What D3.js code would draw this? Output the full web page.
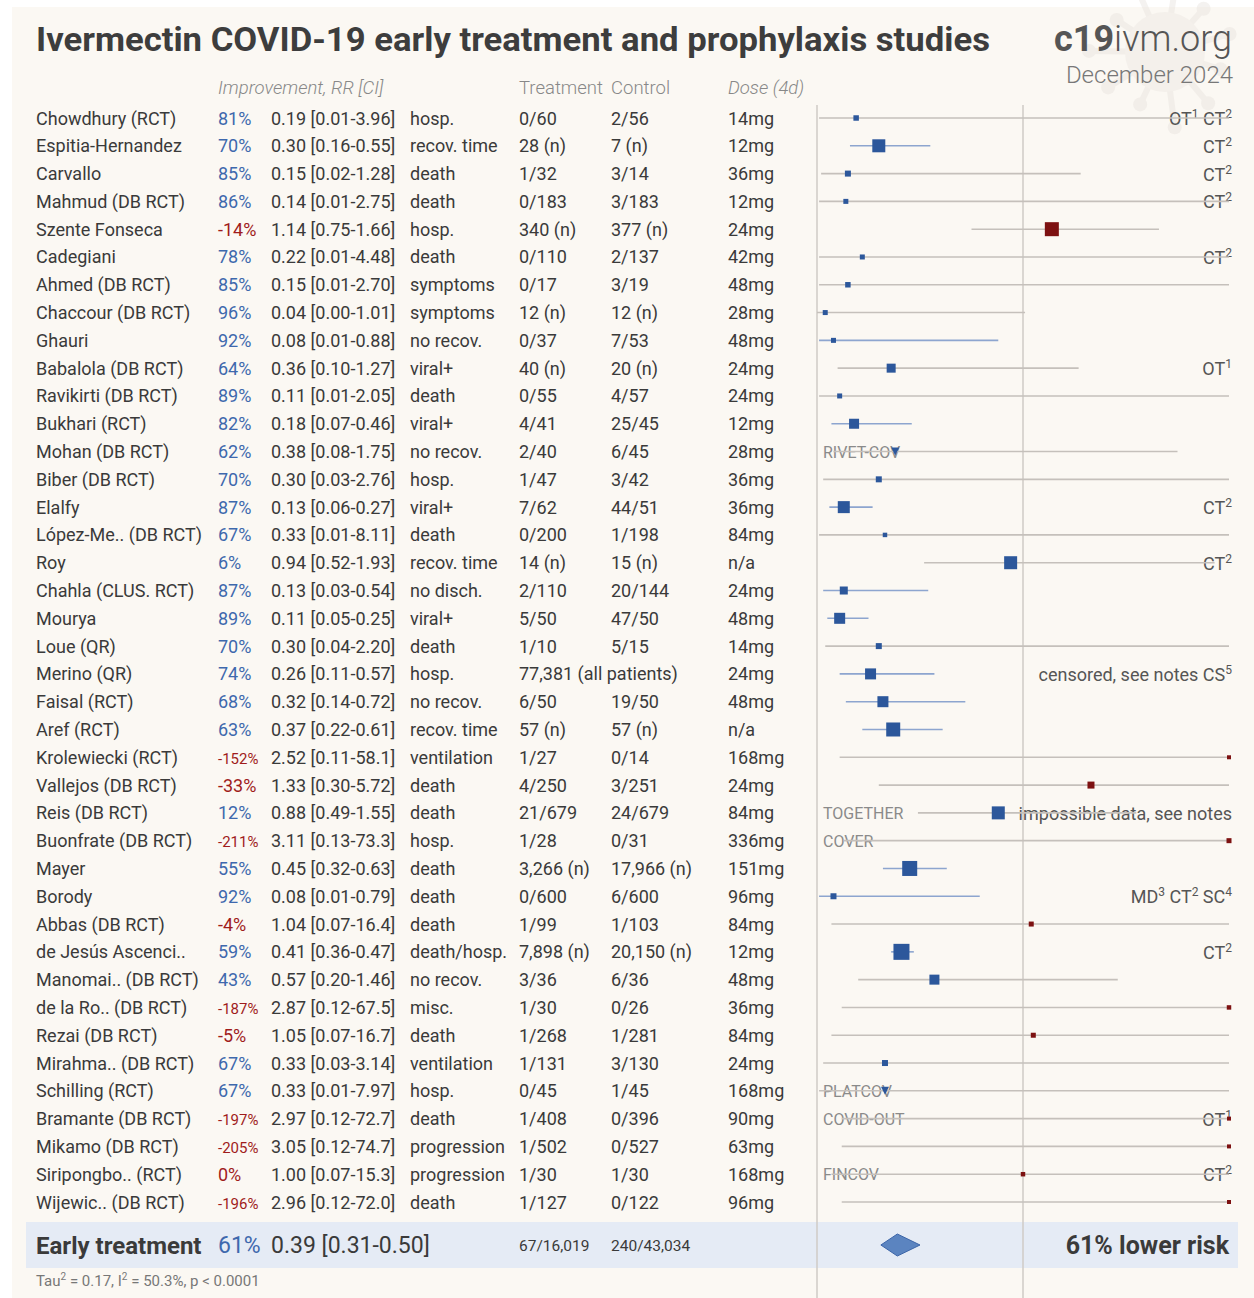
<!DOCTYPE html>
<html><head><meta charset="utf-8">
<script src="https://cdn.jsdelivr.net/npm/d3@7"></script>
<style>
html,body{margin:0;padding:0;background:#ffffff;}
svg{display:block;font-family:Roboto,"Open Sans",sans-serif;}
</style></head>
<body>
<script>
// ---------- DATA ----------
const studies = ["Chowdhury (RCT)","Espitia-Hernandez","Carvallo","Mahmud (DB RCT)","Szente Fonseca","Cadegiani","Ahmed (DB RCT)","Chaccour (DB RCT)","Ghauri","Babalola (DB RCT)","Ravikirti (DB RCT)","Bukhari (RCT)","Mohan (DB RCT)","Biber (DB RCT)","Elalfy","López-Me.. (DB RCT)","Roy","Chahla (CLUS. RCT)","Mourya","Loue (QR)","Merino (QR)","Faisal (RCT)","Aref (RCT)","Krolewiecki (RCT)","Vallejos (DB RCT)","Reis (DB RCT)","Buonfrate (DB RCT)","Mayer","Borody","Abbas (DB RCT)","de Jesús Ascenci..","Manomai.. (DB RCT)","de la Ro.. (DB RCT)","Rezai (DB RCT)","Mirahma.. (DB RCT)","Schilling (RCT)","Bramante (DB RCT)","Mikamo (DB RCT)","Siripongbo.. (RCT)","Wijewic.. (DB RCT)"];
const rr   = [0.19,0.30,0.15,0.14,1.14,0.22,0.15,0.04,0.08,0.36,0.11,0.18,0.38,0.30,0.13,0.33,0.94,0.13,0.11,0.30,0.26,0.32,0.37,2.52,1.33,0.88,3.11,0.45,0.08,1.04,0.41,0.57,2.87,1.05,0.33,0.33,2.97,3.05,1.00,2.96];
const ciLo = [0.01,0.16,0.02,0.01,0.75,0.01,0.01,0.00,0.01,0.10,0.01,0.07,0.08,0.03,0.06,0.01,0.52,0.03,0.05,0.04,0.11,0.14,0.22,0.11,0.30,0.49,0.13,0.32,0.01,0.07,0.36,0.20,0.12,0.07,0.03,0.01,0.12,0.12,0.07,0.12];
const ciHi = [3.96,0.55,1.28,2.75,1.66,4.48,2.70,1.01,0.88,1.27,2.05,0.46,1.75,2.76,0.27,8.11,1.93,0.54,0.25,2.20,0.57,0.72,0.61,58.1,5.72,1.55,73.3,0.63,0.79,16.4,0.47,1.46,67.5,16.7,3.14,7.97,72.7,74.7,15.3,72.0];
const improvement = ["81%","70%","85%","86%","-14%","78%","85%","96%","92%","64%","89%","82%","62%","70%","87%","67%","6%","87%","89%","70%","74%","68%","63%","-152%","-33%","12%","-211%","55%","92%","-4%","59%","43%","-187%","-5%","67%","67%","-197%","-205%","0%","-196%"];
const rrText = ["0.19 [0.01-3.96]","0.30 [0.16-0.55]","0.15 [0.02-1.28]","0.14 [0.01-2.75]","1.14 [0.75-1.66]","0.22 [0.01-4.48]","0.15 [0.01-2.70]","0.04 [0.00-1.01]","0.08 [0.01-0.88]","0.36 [0.10-1.27]","0.11 [0.01-2.05]","0.18 [0.07-0.46]","0.38 [0.08-1.75]","0.30 [0.03-2.76]","0.13 [0.06-0.27]","0.33 [0.01-8.11]","0.94 [0.52-1.93]","0.13 [0.03-0.54]","0.11 [0.05-0.25]","0.30 [0.04-2.20]","0.26 [0.11-0.57]","0.32 [0.14-0.72]","0.37 [0.22-0.61]","2.52 [0.11-58.1]","1.33 [0.30-5.72]","0.88 [0.49-1.55]","3.11 [0.13-73.3]","0.45 [0.32-0.63]","0.08 [0.01-0.79]","1.04 [0.07-16.4]","0.41 [0.36-0.47]","0.57 [0.20-1.46]","2.87 [0.12-67.5]","1.05 [0.07-16.7]","0.33 [0.03-3.14]","0.33 [0.01-7.97]","2.97 [0.12-72.7]","3.05 [0.12-74.7]","1.00 [0.07-15.3]","2.96 [0.12-72.0]"];
const outcome = ["hosp.","recov. time","death","death","hosp.","death","symptoms","symptoms","no recov.","viral+","death","viral+","no recov.","hosp.","viral+","death","recov. time","no disch.","viral+","death","hosp.","no recov.","recov. time","ventilation","death","death","hosp.","death","death","death","death/hosp.","no recov.","misc.","death","ventilation","hosp.","death","progression","progression","death"];
const treatment = ["0/60","28 (n)","1/32","0/183","340 (n)","0/110","0/17","12 (n)","0/37","40 (n)","0/55","4/41","2/40","1/47","7/62","0/200","14 (n)","2/110","5/50","1/10","77,381 (all patients)","6/50","57 (n)","1/27","4/250","21/679","1/28","3,266 (n)","0/600","1/99","7,898 (n)","3/36","1/30","1/268","1/131","0/45","1/408","1/502","1/30","1/127"];
const control = ["2/56","7 (n)","3/14","3/183","377 (n)","2/137","3/19","12 (n)","7/53","20 (n)","4/57","25/45","6/45","3/42","44/51","1/198","15 (n)","20/144","47/50","5/15","","19/50","57 (n)","0/14","3/251","24/679","0/31","17,966 (n)","6/600","1/103","20,150 (n)","6/36","0/26","1/281","3/130","1/45","0/396","0/527","1/30","0/122"];
const dose = ["14mg","12mg","36mg","12mg","24mg","42mg","48mg","28mg","48mg","24mg","24mg","12mg","28mg","36mg","36mg","84mg","n/a","24mg","48mg","14mg","24mg","48mg","n/a","168mg","24mg","84mg","336mg","151mg","96mg","84mg","12mg","48mg","36mg","84mg","24mg","168mg","90mg","63mg","168mg","96mg"];
const weight = [30,169,36,25,196,25,30,25,25,81,25,100,49,36,144,20,169,64,121,36,121,121,196,16,49,169,25,225,36,25,256,100,20,25,36,49,16,16,20,16];
const markerType = ["sq","sq","sq","sq","sq","sq","sq","sq","sq","sq","sq","sq","tri","sq","sq","sq","sq","sq","sq","sq","sq","sq","sq","sq","sq","sq","sq","sq","sq","sq","sq","sq","sq","sq","sq","tri","sq","sq","sq","sq"];
const trialName = ["","","","","","","","","","","","","RIVET-COV","","","","","","","","","","","","","TOGETHER","COVER","","","","","","","","","PLATCOV","COVID-OUT","","FINCOV",""];
const notes = ["OT^1 CT^2","CT^2","CT^2","CT^2","","CT^2","","","","OT^1","","","","","CT^2","","CT^2","","","","censored, see notes CS^5","","","","","impossible data, see notes","","","MD^3 CT^2 SC^4","","CT^2","","","","","","OT^1","","CT^2",""];
const headers = ["Improvement, RR [CI]","Treatment","Control","Dose (4d)"];
const summaryLabel = "Early treatment";
const summaryImprovement = "61%";
const summaryRR = 0.39, summaryLo = 0.31, summaryHi = 0.50;
const summaryRRText = "0.39 [0.31-0.50]";
const summaryTreatment = "67/16,019";
const summaryControl = "240/43,034";
const summaryNote = "61% lower risk";
const title = "Ivermectin COVID-19 early treatment and prophylaxis studies";
const siteBold = "c19", siteRest = "ivm.org", dateText = "December 2024";

// ---------- LAYOUT ----------
const W = 1254, H = 1298;
const svg = d3.select("body").append("svg").attr("width", W).attr("height", H);
svg.append("rect").attr("x",12).attr("y",7).attr("width",W-12).attr("height",H-7).attr("fill","#fbf8f3");

// faint virus watermark
const vir = svg.append("g").attr("opacity",0.45);
const vc = [1165, 52];
d3.range(11).forEach(i=>{
  const a = i/11*2*Math.PI + 0.3;
  const r1 = 36, r2 = 58 + (i%3)*9;
  vir.append("line").attr("x1",vc[0]+Math.cos(a)*r1).attr("y1",vc[1]+Math.sin(a)*r1)
    .attr("x2",vc[0]+Math.cos(a)*r2).attr("y2",vc[1]+Math.sin(a)*r2)
    .attr("stroke","#e8e3de").attr("stroke-width",6);
  vir.append("circle").attr("cx",vc[0]+Math.cos(a)*r2).attr("cy",vc[1]+Math.sin(a)*r2).attr("r",7).attr("fill","#e8e3de");
});
vir.append("circle").attr("cx",vc[0]).attr("cy",vc[1]).attr("r",40).attr("fill","#ece7e2");

const x = d3.scaleLinear().domain([0,2]).range([817,1229]).clamp(true);
const y = d3.scalePoint().domain(d3.range(studies.length)).range([118,1202]);
const size = d3.scaleSqrt().domain([0,256]).range([0,16]);

const col = {name:36, pct:218, rr:271, out:410, tr:519, ct:611, dose:728};
const textCol = "#3a3a3a", blueText = "#3e68ad", redText = "#a01c1c";
const blueMark = "#2c579b", redMark = "#7d1111";

// Title
svg.append("text").attr("x",36).attr("y",51).text(title)
  .attr("font-size",33).attr("font-weight",700).attr("fill","#3d3d3d")
  .attr("textLength",954).attr("lengthAdjust","spacingAndGlyphs");
const site = svg.append("text").attr("x",1232).attr("y",51).attr("text-anchor","end").attr("font-size",36).attr("fill","#555");
site.append("tspan").attr("font-weight",700).text(siteBold);
site.append("tspan").attr("font-weight",300).text(siteRest);
svg.append("text").attr("x",1233).attr("y",83).attr("text-anchor","end").attr("font-size",24).attr("fill","#777").attr("font-weight",300).text(dateText);

// headers
const hx = [col.pct, col.tr, col.ct, col.dose];
const hItal = [true,false,false,true];
headers.forEach((h,i)=>{
  svg.append("text").attr("x",hx[i]).attr("y",94).text(h).attr("font-size",18.5)
    .attr("fill","#888").attr("font-weight",300).attr("font-style",hItal[i]?"italic":"normal");
});

// summary band
const ySum = 1245;
svg.append("rect").attr("x",26).attr("y",1222).attr("width",1212).attr("height",46).attr("fill","#e5ebf5");

// vertical lines
svg.append("line").attr("x1",x(0)).attr("x2",x(0)).attr("y1",105).attr("y2",H).attr("stroke","#cfcbc6").attr("stroke-width",1.5);
svg.append("line").attr("x1",x(1)).attr("x2",x(1)).attr("y1",105).attr("y2",H).attr("stroke","#cfcbc6").attr("stroke-width",1.5);

// rows: table text
const rows = svg.append("g").selectAll("g").data(d3.range(studies.length)).join("g")
  .attr("transform", i=>`translate(0,${y(i)})`);
const base = 6.5;
rows.append("text").attr("x",col.name).attr("y",base).attr("font-size",18).attr("fill",textCol).text(i=>studies[i]);
rows.append("text").attr("x",col.pct).attr("y",base).attr("font-size",i=>improvement[i].length>=5?15:18)
  .attr("fill",i=>rr[i]<1?blueText:redText).text(i=>improvement[i]);
rows.append("text").attr("x",col.rr).attr("y",base).attr("font-size",18).attr("fill",textCol).text(i=>rrText[i]);
rows.append("text").attr("x",col.out).attr("y",base).attr("font-size",18).attr("fill",textCol).text(i=>outcome[i]);
rows.append("text").attr("x",col.tr).attr("y",base).attr("font-size",18).attr("fill",textCol).text(i=>treatment[i]);
rows.append("text").attr("x",col.ct).attr("y",base).attr("font-size",18).attr("fill",textCol).text(i=>control[i]);
rows.append("text").attr("x",col.dose).attr("y",base).attr("font-size",18).attr("fill",textCol).text(i=>dose[i]);

// trial names and notes (drawn under the CI lines)
rows.append("text").attr("x",823).attr("y",base-0.5).attr("font-size",16).attr("fill","#8a8a8a").text(i=>trialName[i]);
rows.each(function(i){
  if(!notes[i]) return;
  const t = d3.select(this).append("text").attr("x",1232).attr("y",base+0.5).attr("text-anchor","end")
    .attr("font-size",18).attr("fill","#555");
  let prevSup = false;
  notes[i].split(/(\^\d)/).forEach(part=>{
    if(!part) return;
    if(part[0]==="^"){ t.append("tspan").attr("dy",-7).attr("font-size",12).text(part.slice(1)); prevSup = true; }
    else { t.append("tspan").attr("dy",prevSup?7:0).text(part); prevSup = false; }
  });
});

// CI lines
rows.append("line").attr("x1",i=>x(ciLo[i])).attr("x2",i=>x(ciHi[i])).attr("y1",0).attr("y2",0)
  .attr("stroke",i=>ciHi[i]<1?"#8da5cf":"#c5c0bb").attr("stroke-width",1.6);

// markers
rows.each(function(i){
  const g = d3.select(this), c = rr[i]<1?blueMark:redMark, s = size(weight[i]);
  if(markerType[i]==="tri"){
    const cx = x(rr[i]);
    g.append("path").attr("d",`M${cx-4},-4L${cx+4},-4L${cx},4Z`).attr("fill",c);
  } else {
    g.append("rect").attr("x",x(rr[i])-s/2).attr("y",-s/2).attr("width",s).attr("height",s).attr("fill",c);
  }
});

// summary
svg.append("text").attr("x",36).attr("y",ySum+8.5).attr("font-size",24).attr("font-weight",700).attr("fill","#3a3a3a").text(summaryLabel);
svg.append("text").attr("x",col.pct).attr("y",ySum+8).attr("font-size",23).attr("fill",blueText).text(summaryImprovement);
svg.append("text").attr("x",col.rr).attr("y",ySum+8).attr("font-size",23).attr("fill",textCol).text(summaryRRText);
svg.append("text").attr("x",col.tr).attr("y",ySum+5.5).attr("font-size",15.5).attr("fill",textCol).text(summaryTreatment);
svg.append("text").attr("x",col.ct).attr("y",ySum+5.5).attr("font-size",15.5).attr("fill",textCol).text(summaryControl);
svg.append("path").attr("d",`M${x(summaryLo)},${ySum}L${x(summaryRR)},${ySum-11}L${x(summaryHi)},${ySum}L${x(summaryRR)},${ySum+11}Z`)
  .attr("fill","#5b84c0").attr("stroke","#3c65a8").attr("stroke-width",1);
svg.append("text").attr("x",1229).attr("y",ySum+8.5).attr("text-anchor","end").attr("font-size",25).attr("font-weight",700).attr("fill","#3a3a3a").text(summaryNote);

// footer stats
const ft = svg.append("text").attr("x",36).attr("y",1286).attr("font-size",15).attr("fill","#777");
ft.append("tspan").text("Tau");
ft.append("tspan").attr("dy",-6).attr("font-size",10).text("2");
ft.append("tspan").attr("dy",6).text(" = 0.17, I");
ft.append("tspan").attr("dy",-6).attr("font-size",10).text("2");
ft.append("tspan").attr("dy",6).text(" = 50.3%, p < 0.0001");
</script>
</body></html>
